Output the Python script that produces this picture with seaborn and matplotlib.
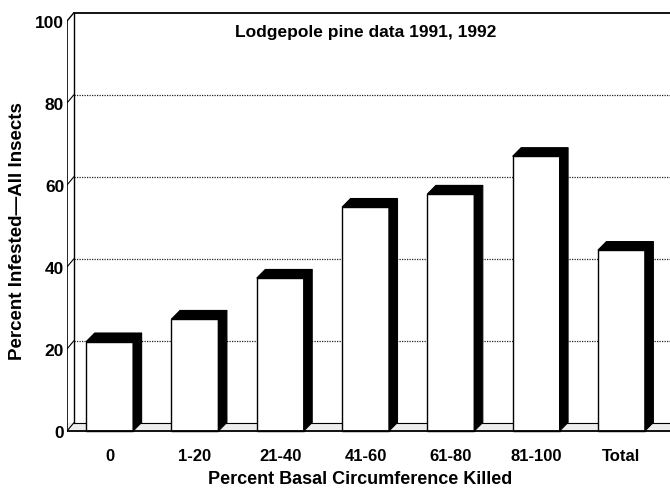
import matplotlib
matplotlib.use("Agg")
import matplotlib.pyplot as plt
import seaborn as sns
import pandas as pd
from matplotlib.patches import Polygon

categories = ["0", "1-20", "21-40", "41-60", "61-80", "81-100", "Total"]
values = [21.8, 27.3, 37.3, 54.6, 57.8, 67.0, 44.1]
yticks = [0, 20, 40, 60, 80, 100]
title = "Lodgepole pine data 1991, 1992"
xlabel = "Percent Basal Circumference Killed"
ylabel = "Percent Infested\u2014All Insects"

sns.set_style("white")
plt.rcParams["font.family"] = ["Liberation Sans", "DejaVu Sans"]
plt.rcParams["text.color"] = "black"
plt.rcParams["xtick.color"] = "black"
plt.rcParams["ytick.color"] = "black"
plt.rcParams["xtick.labelcolor"] = "black"
plt.rcParams["ytick.labelcolor"] = "black"

df = pd.DataFrame({"cat": categories, "val": values})

W, H = 670, 489
fig = plt.figure(figsize=(W / 100, H / 100), dpi=100)
# front zero at y=432px, 4.1 px per unit
ymin, ymax = -1.2, 103.5
px = 4.1
bottom_px = 432 + (-ymin) * px
top_px = 432 - ymax * px
ax = fig.add_axes([67 / W, (H - bottom_px) / H, (W - 67) / W, (bottom_px - top_px) / H])

sns.barplot(data=df, x="cat", y="val", color="white", edgecolor="black",
            linewidth=1.0, width=0.55, ax=ax, zorder=3, saturation=1)

ax.set_xlim(-0.5, 6.57)
ax.set_ylim(ymin, ymax)

dx, dy = 0.10, 2.1      # bar depth
wx, wy = 0.08, 2.0      # wall depth
x_left = -0.5
x_right = 6.57

# back wall grid (dotted) and top border
for g in yticks[1:-1]:
    ax.plot([x_left + wx, x_right], [g + wy, g + wy], color="#222222",
            linestyle=(0, (1, 1)), linewidth=0.9, zorder=1)
    ax.plot([x_left, x_left + wx], [g, g + wy], color="black", linewidth=0.8, zorder=2)
ax.plot([x_left + wx, x_right], [100 + wy, 100 + wy], color="black", linewidth=1.3, zorder=2)
ax.plot([x_left, x_left + wx], [100, 100 + wy], color="black", linewidth=1.0, zorder=2)
# left wall double line
ax.plot([x_left, x_left], [0, 100], color="black", linewidth=1.2, zorder=2)
ax.plot([x_left + wx, x_left + wx], [wy, 100 + wy], color="black", linewidth=1.0, zorder=2)
# floor
ax.fill_between([x_left, x_right], [0, 0], [wy, wy], color="#eeeeee", zorder=1)
ax.plot([x_left, x_right], [0, 0], color="black", linewidth=1.3, zorder=4)
ax.plot([x_left + wx, x_right], [wy, wy], color="black", linewidth=0.8, zorder=2)
ax.plot([x_left, x_left + wx], [0, wy], color="black", linewidth=0.8, zorder=2)

# 3D shading of bars
for p in ax.patches[:len(values)]:
    x0 = p.get_x()
    w = p.get_width()
    h = p.get_height()
    x1 = x0 + w
    top = Polygon([(x0, h), (x0 + dx, h + dy), (x1 + dx, h + dy), (x1, h)],
                  closed=True, facecolor="black", edgecolor="black", linewidth=0.8, zorder=3)
    side = Polygon([(x1, 0), (x1, h), (x1 + dx, h + dy), (x1 + dx, dy)],
                   closed=True, facecolor="black", edgecolor="black", linewidth=0.8, zorder=3)
    ax.add_patch(top)
    ax.add_patch(side)

for s in ax.spines.values():
    s.set_visible(False)

ax.set_yticks(yticks)
ax.set_yticklabels([str(t) for t in yticks], fontsize=12.5, fontweight="bold", color="black")
ax.tick_params(axis="y", length=0, pad=2)
ax.tick_params(axis="x", length=0, pad=9)
for lab in ax.get_xticklabels():
    lab.set_fontsize(12)
    lab.set_fontweight("bold")
    lab.set_color("black")

ax.set_xlabel("")
ax.set_ylabel("")
fig.text(360 / W, 1 - 480 / H, xlabel, ha="center", va="center",
         fontsize=13, fontweight="bold", color="black")
fig.text(18 / W, 1 - 231 / H, ylabel, ha="center", va="center", rotation=90,
         fontsize=13.5, fontweight="bold", color="black")
fig.text(366 / W, 1 - 32 / H, title, ha="center", va="center",
         fontsize=12.5, fontweight="bold", color="black")

fig.savefig("out.png", dpi=100, facecolor="white")
